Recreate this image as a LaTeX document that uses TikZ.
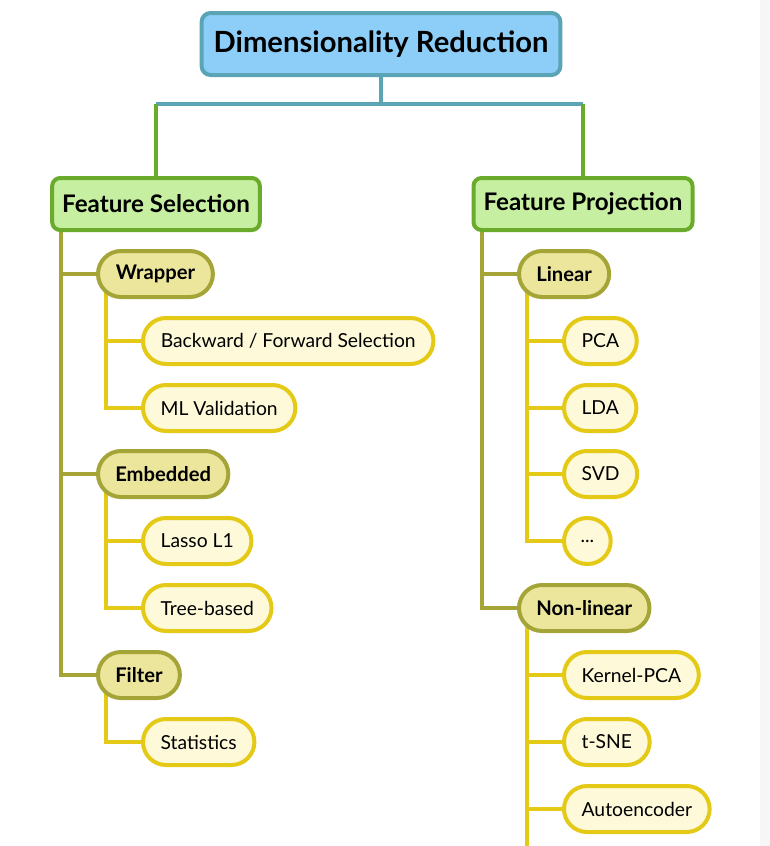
\documentclass[tikz,border=0pt]{standalone}
\usepackage{fontspec}
\setmainfont{Lato}
\usetikzlibrary{shapes.misc,backgrounds}
\definecolor{rootfill}{HTML}{8DCEF9}
\definecolor{rootline}{HTML}{5AA4B6}
\definecolor{mainfill}{HTML}{C7EFA1}
\definecolor{mainline}{HTML}{6AAB2B}
\definecolor{olivefill}{HTML}{ECE69D}
\definecolor{oliveline}{HTML}{A5A436}
\definecolor{leaffill}{HTML}{FDF9D9}
\definecolor{leafline}{HTML}{E5C917}
\definecolor{stripgray}{HTML}{F6F6F6}
\begin{document}
\begin{tikzpicture}[x=1pt,y=-1pt,
    rootbox/.style={draw=rootline,fill=rootfill,line width=4pt,rounded corners=9pt,
      minimum height=62pt,inner xsep=12pt,font=\fontsize{29.2}{33}\selectfont\bfseries},
    mainbox/.style={draw=mainline,fill=mainfill,line width=4pt,rounded corners=8pt,
      minimum height=52pt,inner xsep=10pt,font=\fontsize{24.2}{28}\selectfont\bfseries},
    groupbox/.style={rounded rectangle,draw=oliveline,fill=olivefill,line width=4pt,
      minimum height=46pt,inner xsep=16pt,anchor=west,font=\fontsize{20.2}{24}\selectfont\bfseries},
    leafbox/.style={rounded rectangle,draw=leafline,fill=leaffill,line width=4pt,
      minimum height=46pt,inner xsep=16.5pt,anchor=west,font=\fontsize{19.3}{23}\selectfont},
    rootlink/.style={draw=rootline,line width=4pt},
    mainlink/.style={draw=mainline,line width=4pt},
    grouplink/.style={draw=oliveline,line width=4.5pt},
    leaflink/.style={draw=leafline,line width=4.5pt}]
    \useasboundingbox (0,0) rectangle (770,846);
    \fill[stripgray] (760,0) rectangle (770,846);
    \node[rootbox] (dr) at (381,44) {Dimensionality Reduction};
    \node[mainbox] (fs) at (156,204) {Feature Selection};
    \node[mainbox] (fp) at (583,204) {Feature Projection};
    \node[groupbox] (wrap) at (96,274) {Wrapper};
    \node[leafbox] (bfs) at (141,341) {Backward / Forward Selection};
    \node[leafbox] (mlv) at (141,408) {ML Validation};
    \node[groupbox] (emb) at (96,474) {Embedded};
    \node[leafbox] (lasso) at (141,541) {Lasso L1};
    \node[leafbox] (tree) at (141,608) {Tree-based};
    \node[groupbox] (filt) at (96,675) {Filter};
    \node[leafbox] (stat) at (141,742) {Statistics};
    \node[groupbox] (lin) at (517,274) {Linear};
    \node[leafbox] (pca) at (562,341) {PCA};
    \node[leafbox] (lda) at (562,408) {LDA};
    \node[leafbox] (svd) at (562,474) {SVD};
    \node[leafbox] (more) at (562,541) {...};
    \node[groupbox] (nonlin) at (517,608) {Non-linear};
    \node[leafbox] (kpca) at (562,675) {Kernel-PCA};
    \node[leafbox] (tsne) at (562,742) {t-SNE};
    \node[leafbox] (ae) at (562,809) {Autoencoder};
    \coordinate (split) at (381,104);
    \coordinate (ltrunk) at (61,204);
    \coordinate (rtrunk) at (482,204);
    \coordinate (wtrunk) at (106,274);
    \coordinate (etrunk) at (106,474);
    \coordinate (ftrunk) at (106,675);
    \coordinate (ltr) at (527,274);
    \coordinate (ntr) at (527,608);
    \coordinate (cut) at (527,846);
    \begin{scope}[on background layer]
    \draw[rootlink] (dr) -- (split);
    \draw[rootlink] (split -| fs) -- (split -| fp);
    \draw[mainlink] (split -| fs) -- (fs);
    \draw[mainlink] (split -| fp) -- (fp);
    \draw[grouplink] (ltrunk) |- (filt);
    \draw[grouplink] (wrap) -- (wrap -| ltrunk);
    \draw[grouplink] (emb) -- (emb -| ltrunk);
    \draw[grouplink] (rtrunk) |- (nonlin);
    \draw[grouplink] (lin) -- (lin -| rtrunk);
    \draw[leaflink] (wtrunk) |- (mlv);
    \draw[leaflink] (bfs) -- (bfs -| wtrunk);
    \draw[leaflink] (etrunk) |- (tree);
    \draw[leaflink] (lasso) -- (lasso -| etrunk);
    \draw[leaflink] (ftrunk) |- (stat);
    \draw[leaflink] (ltr) |- (more);
    \draw[leaflink] (pca) -- (pca -| ltr);
    \draw[leaflink] (lda) -- (lda -| ltr);
    \draw[leaflink] (svd) -- (svd -| ltr);
    \draw[leaflink] (ntr) -- (cut);
    \draw[leaflink] (kpca) -- (kpca -| ntr);
    \draw[leaflink] (tsne) -- (tsne -| ntr);
    \draw[leaflink] (ae) -- (ae -| ntr);
    \end{scope}
\end{tikzpicture}
\end{document}
